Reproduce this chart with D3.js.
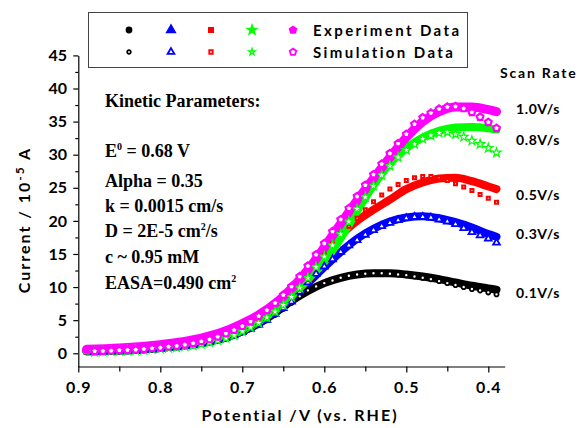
<!DOCTYPE html>
<html>
<head>
<meta charset="utf-8">
<script src="https://cdn.jsdelivr.net/npm/d3@7"></script>
<style>
  body { margin: 0; background: #fff; }
  svg { display: block; }
  .tick-lbl { font-family: Lato, "Open Sans", sans-serif; font-weight: 700; font-size: 16px; }
  .ttl { font-family: Lato, "Open Sans", sans-serif; font-weight: 700; font-size: 16px; letter-spacing: 2px; }
  .kin { font-family: "Liberation Serif", "Times New Roman", serif; font-weight: 700; font-size: 18px; }
  .rate { font-family: Lato, "Open Sans", sans-serif; font-weight: 700; font-size: 14px; letter-spacing: 0.6px; }
</style>
</head>
<body>
<div id="chart"></div>
<script>
// ---- data ----------------------------------------------------
const expPotential = [0.89, 0.85, 0.80, 0.75, 0.72, 0.70, 0.68, 0.66, 0.64, 0.62, 0.60,
  0.58, 0.56, 0.54, 0.52, 0.50, 0.48, 0.46, 0.44, 0.42, 0.40, 0.39];
const exp01 = [0.3, 0.4, 0.8, 1.6, 2.4, 3.3, 4.5, 6.1, 7.9, 9.4, 10.6, 11.4, 11.9, 12.1, 12.1, 11.9, 11.6, 11.2, 10.7, 10.2, 9.8, 9.6];
const exp03 = [0.3, 0.4, 0.8, 1.6, 2.4, 3.3, 4.6, 6.3, 8.3, 10.6, 13.0, 15.3, 17.3, 18.8, 19.9, 20.5, 20.7, 20.4, 19.8, 19.0, 18.0, 17.6];
const exp05 = [0.4, 0.5, 0.9, 1.7, 2.6, 3.5, 4.8, 6.6, 8.9, 11.0, 14.7, 17.8, 20.0, 21.7, 23.2, 24.8, 25.8, 26.4, 26.5, 26.0, 25.2, 24.8];
const exp08 = [0.4, 0.5, 0.9, 1.7, 2.6, 3.5, 4.8, 6.5, 8.6, 11.2, 13.8, 17.4, 21.5, 25.4, 28.7, 31.0, 32.6, 33.6, 34.1, 34.2, 34.0, 33.8];
const exp10 = [0.6, 0.8, 1.3, 2.3, 3.4, 4.5, 5.8, 7.5, 9.8, 12.6, 16.0, 19.6, 23.1, 26.4, 29.6, 32.6, 35.0, 36.5, 37.2, 37.2, 36.8, 36.5];

const simPotential = [0.88, 0.87, 0.86, 0.85, 0.84, 0.83, 0.82, 0.81, 0.80, 0.79,
  0.78, 0.77, 0.76, 0.75, 0.74, 0.73, 0.72, 0.71, 0.70, 0.69,
  0.68, 0.67, 0.66, 0.65, 0.64, 0.63, 0.62, 0.61, 0.60, 0.59,
  0.58, 0.57, 0.56, 0.55, 0.54, 0.53, 0.52, 0.51, 0.50, 0.49,
  0.48, 0.47, 0.46, 0.45, 0.44, 0.43, 0.42, 0.41, 0.40, 0.39];
const sim01 = [0.2, 0.25, 0.3, 0.35, 0.4, 0.45, 0.5, 0.6, 0.7, 0.8, 0.9, 1.05, 1.2, 1.4, 1.65, 1.95, 2.3, 2.7,
  3.2, 3.7, 4.3, 5.0, 5.8, 6.7, 7.6, 8.6, 9.5, 10.1, 10.6, 11.0, 11.4, 11.7, 11.9, 12.0, 12.1, 12.1, 12.0, 11.9,
  11.8, 11.6, 11.4, 11.2, 10.9, 10.6, 10.3, 10.0, 9.7, 9.5, 9.2, 8.9];
const sim03 = [0.2, 0.25, 0.3, 0.35, 0.4, 0.45, 0.5, 0.6, 0.7, 0.8, 0.9, 1.05, 1.2, 1.4, 1.65, 1.95, 2.3, 2.7,
  3.2, 3.7, 4.3, 5.0, 5.9, 6.8, 7.8, 9.3, 10.7, 12.0, 13.1, 14.2, 15.3, 16.3, 17.1, 17.9, 18.6, 19.2, 19.7, 20.1,
  20.4, 20.6, 20.6, 20.5, 20.2, 19.9, 19.5, 18.9, 18.3, 17.8, 17.3, 16.7];
const sim05 = [0.2, 0.25, 0.3, 0.35, 0.4, 0.45, 0.5, 0.6, 0.7, 0.8, 0.9, 1.05, 1.2, 1.4, 1.65, 1.95, 2.3, 2.7,
  3.3, 3.9, 4.6, 5.4, 6.2, 7.2, 8.4, 9.7, 11.1, 12.9, 14.8, 16.5, 18.0, 19.2, 20.4, 21.7, 22.9, 23.9, 24.8, 25.5,
  26.1, 26.5, 26.7, 26.7, 26.5, 26.1, 25.6, 25.1, 24.6, 24.0, 23.4, 22.8];
const sim08 = [0.2, 0.25, 0.3, 0.35, 0.4, 0.45, 0.5, 0.6, 0.7, 0.8, 0.9, 1.05, 1.2, 1.4, 1.65, 1.95, 2.3, 2.7,
  3.3, 3.9, 4.6, 5.4, 6.3, 7.3, 8.5, 9.9, 11.4, 13.0, 14.6, 16.3, 18.0, 19.9, 21.8, 23.6, 25.3, 26.9, 28.3, 29.6,
  30.7, 31.6, 32.4, 32.9, 33.3, 33.4, 33.1, 32.7, 32.1, 31.6, 31.0, 30.3];
const sim10 = [0.3, 0.35, 0.4, 0.45, 0.5, 0.55, 0.65, 0.75, 0.85, 1.0, 1.1, 1.3, 1.5, 1.8, 2.1, 2.5, 3.0, 3.5,
  4.1, 4.8, 5.6, 6.5, 7.6, 8.8, 10.1, 11.6, 13.2, 14.9, 16.6, 18.4, 20.2, 21.9, 23.7, 25.4, 27.0, 28.6, 30.2, 31.7,
  33.1, 34.6, 35.6, 36.3, 36.9, 37.2, 37.3, 37.0, 36.4, 35.7, 34.9, 34.0];

const rateLabels = ["0.1V/s", "0.3V/s", "0.5V/s", "0.8V/s", "1.0V/s"];
const rateLabelCurrent = [8.3, 17.2, 23.2, 31.5, 36.2]; // where the label sits, y units
const colors = ["#000000", "#0000ff", "#ff0000", "#00ff00", "#ff00ff"];
const xTicks = [0.9, 0.8, 0.7, 0.6, 0.5, 0.4];
const yTicks = [0, 5, 10, 15, 20, 25, 30, 35, 40, 45];
const kineticLines = ["E0 = 0.68 V", "Alpha = 0.35", "k = 0.0015 cm/s", "D = 2E-5 cm2/s", "c ~ 0.95 mM", "EASA=0.490 cm2"];

// ================================
const W = 583, H = 428;
const svg = d3.select("#chart").append("svg").attr("width", W).attr("height", H);

const xScale = d3.scaleLinear().domain([0.9, 0.38]).range([78.3, 504.7]);
const yScale = d3.scaleLinear().domain([-2, 45]).range([366.5, 55.4]);

// pentagon is not in d3, roll our own symbol
const symbolPentagon = {
  draw(ctx, size) {
    const r = Math.sqrt(size / 2.378);
    for (let i = 0; i < 5; i++) {
      const a = -Math.PI / 2 + i * 2 * Math.PI / 5;
      if (i === 0) ctx.moveTo(r * Math.cos(a), r * Math.sin(a));
      else ctx.lineTo(r * Math.cos(a), r * Math.sin(a));
    }
    ctx.closePath();
  }
};
const shapes = [d3.symbolCircle, d3.symbolTriangle, d3.symbolSquare, d3.symbolStar, symbolPentagon];
const simSize = [14, 20, 9, 26, 30];
const simStroke = [1.8, 1.8, 2, 1.2, 2.2];

// ---- axes ----
const xAxis = d3.axisBottom(xScale).tickValues(xTicks).tickSize(6).tickSizeOuter(0).tickFormat(d3.format(".1f"));
const xMinor = d3.axisBottom(xScale).tickValues([0.85, 0.75, 0.65, 0.55, 0.45]).tickSize(5).tickSizeOuter(0).tickFormat("");
const yAxis = d3.axisLeft(yScale).tickValues(yTicks).tickSize(5).tickSizeOuter(0);
const yMinor = d3.axisLeft(yScale).tickValues([2.5, 7.5, 12.5, 17.5, 22.5, 27.5, 32.5, 37.5, 42.5]).tickSize(3).tickSizeOuter(0).tickFormat("");

const gx = svg.append("g").attr("transform", `translate(0,${yScale(-2)})`).call(xAxis);
svg.append("g").attr("transform", `translate(0,${yScale(-2)})`).call(xMinor).select(".domain").remove();
const gy = svg.append("g").attr("transform", `translate(${xScale(0.9)},0)`).call(yAxis);
svg.append("g").attr("transform", `translate(${xScale(0.9)},0)`).call(yMinor).select(".domain").remove();

svg.selectAll(".domain, .tick line").attr("stroke", "#000").attr("stroke-width", 1.2);
gx.selectAll("text").attr("class", "tick-lbl").attr("dy", "1.1em").style("letter-spacing", "1px");
gy.selectAll("text").attr("class", "tick-lbl").attr("dx", "-0.2em");

// axis titles
svg.append("text").attr("class", "ttl")
  .attr("x", 300).attr("y", 421).attr("text-anchor", "middle")
  .text("Potential /V (vs. RHE)");

const yt = svg.append("text").attr("class", "ttl")
  .attr("transform", "translate(30,220) rotate(-90)").attr("text-anchor", "middle");
yt.append("tspan").text("Current / 10");
yt.append("tspan").attr("dy", -6).style("font-size", "12px").text("-5");
yt.append("tspan").attr("dy", 6).text(" A");

// ---- experiment: dense filled points drawn as a thick band ----
const expSets = [exp01, exp03, exp05, exp08, exp10];
const band = d3.line()
  .x((d, i) => xScale(expPotential[i]))
  .y(d => yScale(d))
  .curve(d3.curveMonotoneX);

expSets.forEach((s, k) => {
  svg.append("path")
    .attr("d", band(s))
    .attr("fill", "none")
    .attr("stroke", colors[k])
    .attr("stroke-width", k === 4 ? 9 : 8)
    .attr("stroke-linecap", "round")
    .attr("stroke-linejoin", "round");
});

// ---- simulation: open markers ----
const simSets = [sim01, sim03, sim05, sim08, sim10];
simSets.forEach((s, k) => {
  const sym = d3.symbol().type(shapes[k]).size(simSize[k]);
  svg.append("g").selectAll("path")
    .data(s)
    .enter()
    .append("path")
    .attr("d", sym)
    .attr("transform", (d, i) => `translate(${xScale(simPotential[i])},${yScale(d)})`)
    .attr("fill", "#fff")
    .attr("stroke", colors[k])
    .attr("stroke-width", simStroke[k]);
});

// ---- legend ----
svg.append("rect").attr("x", 88.5).attr("y", 12.5).attr("width", 379).attr("height", 55)
  .attr("fill", "#fff").attr("stroke", "#444").attr("stroke-width", 1);
const legX = [129, 171, 211, 252, 293];
const legFill = [36, 55, 36, 58, 50];
const legOpen = [10, 20, 12, 14, 28];
const legStroke = [1.8, 1.8, 1.8, 1.3, 1.8];
legX.forEach((lx, k) => {
  svg.append("path").attr("d", d3.symbol().type(shapes[k]).size(legFill[k]))
    .attr("transform", `translate(${lx},30)`).attr("fill", colors[k]);
  svg.append("path").attr("d", d3.symbol().type(shapes[k]).size(legOpen[k]))
    .attr("transform", `translate(${lx},52)`).attr("fill", "#fff")
    .attr("stroke", colors[k]).attr("stroke-width", legStroke[k]);
});
svg.append("text").attr("class", "ttl").style("font-size", "15px").style("letter-spacing", "2.4px").attr("x", 313).attr("y", 36).text("Experiment Data");
svg.append("text").attr("class", "ttl").style("font-size", "15px").style("letter-spacing", "2.4px").attr("x", 313).attr("y", 58).text("Simulation Data");

// ---- scan rate labels ----
svg.append("text").attr("class", "rate").style("letter-spacing", "1.8px").attr("x", 500).attr("y", 78).text("Scan Rate");
rateLabels.forEach((t, k) => {
  svg.append("text").attr("class", "rate").attr("x", 516).attr("y", yScale(rateLabelCurrent[k])).text(t);
});

// ---- kinetic parameters ----
svg.append("text").attr("class", "kin").attr("x", 105).attr("y", 107).text("Kinetic Parameters:");
const kinY = [157, 187, 212, 237, 263, 289];
kineticLines.forEach((t, k) => {
  const el = svg.append("text").attr("class", "kin").attr("x", 105).attr("y", kinY[k]);
  if (k === 0) {
    el.append("tspan").text("E");
    el.append("tspan").attr("dy", -7).style("font-size", "10px").text("0");
    el.append("tspan").attr("dy", 7).text(" = 0.68 V");
  } else if (k === 3) {
    el.append("tspan").text("D = 2E-5 cm");
    el.append("tspan").attr("dy", -7).style("font-size", "10px").text("2");
    el.append("tspan").attr("dy", 7).text("/s");
  } else if (k === 5) {
    el.append("tspan").text("EASA=0.490 cm");
    el.append("tspan").attr("dy", -7).style("font-size", "10px").text("2");
  } else {
    el.text(t);
  }
});
</script>
</body>
</html>
